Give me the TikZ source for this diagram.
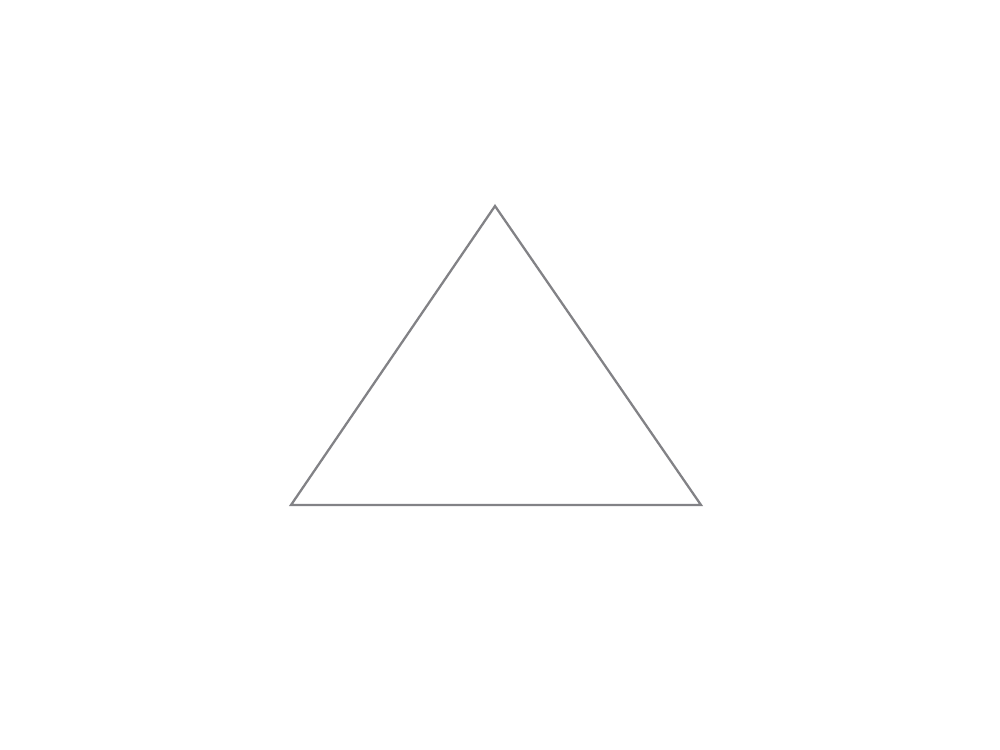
\documentclass[tikz,border=0pt]{standalone}
\usepackage{xcolor}
\definecolor{edgeGray}{RGB}{130, 130, 134}
\usepackage{tikz}

\begin{document}
\begin{tikzpicture}[x=0.02cm, y=-0.02cm]
\useasboundingbox (0,0) rectangle (1000,750);
\coordinate (apex) at (495,206);
\coordinate (left) at (291,505);
\coordinate (right) at (701,505);
\draw[edgeGray, line width=1.3pt, line join=miter] (apex) -- (left) -- (right) -- cycle;
\end{tikzpicture}
\end{document}
